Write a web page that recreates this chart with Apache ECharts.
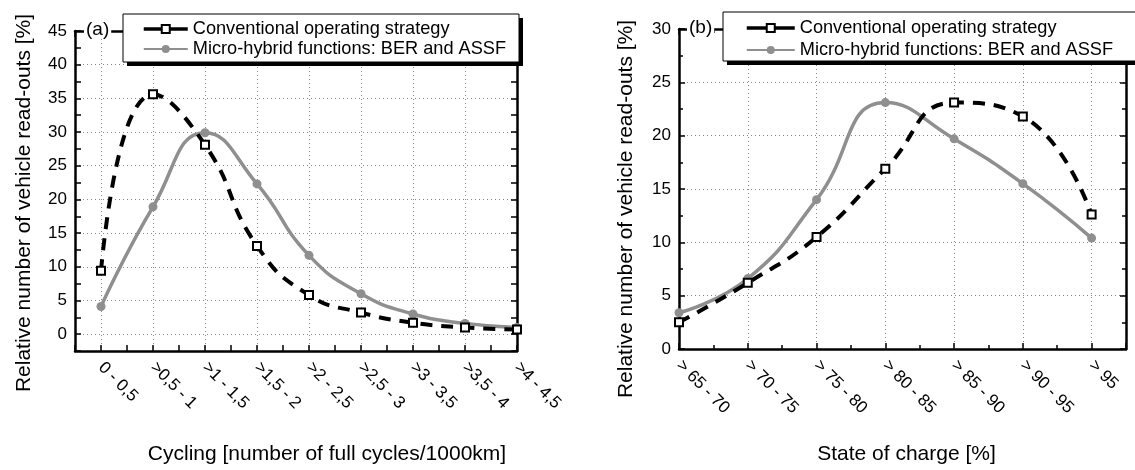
<!DOCTYPE html>
<html>
<head>
<meta charset="utf-8">
<script src="https://cdn.jsdelivr.net/npm/echarts@6/dist/echarts.min.js"></script>
<style>
    html, body { margin: 0; padding: 0; background: #fff; }
    #chart { width: 1135px; height: 470px; }
</style>
</head>
<body>
<div id="chart"></div>
<script>
// (a) cycling distribution
const cyclingLabels = ['0 - 0,5', '>0,5 - 1', '>1 - 1,5', '>1,5 - 2', '>2 - 2,5', '>2,5 - 3', '>3 - 3,5', '>3,5 - 4', '>4 - 4,5'];
const cyclingConventional = [9.4, 35.6, 28.1, 13.1, 5.8, 3.2, 1.7, 1.0, 0.7];
const cyclingMicroHybrid = [4.1, 18.9, 29.9, 22.3, 11.7, 6.0, 3.0, 1.6, 1.0];

// (b) state of charge distribution
const socLabels = ['> 65 - 70', '> 70 - 75', '> 75 - 80', '> 80 - 85', '> 85 - 90', '> 90 - 95', '> 95'];
const socConventional = [2.5, 6.2, 10.5, 16.9, 23.1, 21.8, 12.6];
const socMicroHybrid = [3.4, 6.6, 14.0, 23.1, 19.7, 15.5, 10.4];

const seriesNames = ['Conventional operating strategy', 'Micro-hybrid functions: BER and ASSF'];

const FONT = 'Liberation Sans';
const GREY = '#8f8f8f';
const DOTS = '#8a8a8a';

const chart = echarts.init(document.getElementById('chart'));

// Frame line shared by all axes
const frameLine = {show: true, onZero: false, lineStyle: {color: '#000', width: 2.5}};
const tick = {show: true, inside: true, length: 6, lineStyle: {color: '#000', width: 1.5}};
const minorTick = {show: true, splitNumber: 2, length: 4, lineStyle: {color: '#000', width: 1.5}};
// dotted grid, every second line hidden (for the 0.5 / 2.5 step axes)
const halfSplit = {show: true, lineStyle: {color: ['rgba(0,0,0,0)', DOTS], type: [1, 3], width: 1}};
const fullSplit = {show: true, lineStyle: {color: DOTS, type: [1, 3], width: 1}};

// Secondary axis only drawing the top / right frame with ticks
const frameAxis = (base, position) => Object.assign({}, base, {
    position: position,
    name: '',
    axisLabel: {show: false},
    splitLine: {show: false}
});

// Series for one panel
const panelSeries = (gridIndex, conventional, microHybrid) => [
    {
        name: seriesNames[1],
        type: 'line',
        xAxisIndex: gridIndex * 2,
        yAxisIndex: gridIndex * 2,
        data: microHybrid.map((v, i) => [i, v]),
        smooth: 0.5,
        symbol: 'circle',
        symbolSize: 9,
        itemStyle: {color: GREY},
        lineStyle: {color: GREY, width: 3.5},
        z: 3
    },
    {
        name: seriesNames[0],
        type: 'line',
        xAxisIndex: gridIndex * 2,
        yAxisIndex: gridIndex * 2,
        data: conventional.map((v, i) => [i, v]),
        smooth: 0.5,
        symbol: 'rect',
        symbolSize: 8,
        itemStyle: {color: '#fff', borderColor: '#000', borderWidth: 2},
        lineStyle: {color: '#000', width: 4, type: [12, 9]},
        z: 4
    }
];

// Legend for one panel (box is drawn as graphics behind it)
const panelLegend = (left, top, itemWidth, itemGap) => ({
    orient: 'vertical',
    left: left,
    top: top,
    z: 11,
    itemWidth: itemWidth,
    itemHeight: 10,
    itemGap: itemGap,
    padding: 0,
    textStyle: {fontFamily: FONT, fontSize: 18.2, color: '#000', lineHeight: 20},
    data: [
        {name: seriesNames[0], lineStyle: {type: 'solid', width: 3.5}},
        {name: seriesNames[1]}
    ]
});

// Legend frame (white box, border)
const legendBox = (x, y, w, h) => ({
    type: 'rect', z: 10, shape: {x: x, y: y, width: w, height: h},
    style: {fill: '#fff', stroke: '#000', lineWidth: 1}
});

// Black grid rectangle 4px down/right of the box: the hard drop shadow
const shadowGrid = (x, y, w, h) => ({
    show: true, left: x + 4, top: y + 4, width: w, height: h,
    backgroundColor: '#000', borderWidth: 0, z: 1
});

// Axes of panel (a)
const cyclingX = {
    type: 'value', gridIndex: 0, min: -0.5, max: 8, interval: 0.5,
    axisLine: frameLine, axisTick: tick, splitLine: halfSplit,
    axisLabel: {
        rotate: -45, margin: 14, fontFamily: FONT, fontSize: 17, color: '#000',
        formatter: (v) => Number.isInteger(v) && v >= 0 ? cyclingLabels[v] : ''
    },
    name: 'Cycling [number of full cycles/1000km]',
    nameLocation: 'middle', nameGap: 93,
    nameTextStyle: {fontFamily: FONT, fontSize: 21, color: '#000', padding: [0, 0, 0, 62]}
};
const cyclingY = {
    type: 'value', gridIndex: 0, min: -2.5, max: 45, interval: 2.5,
    axisLine: frameLine, axisTick: tick, splitLine: halfSplit,
    axisLabel: {
        margin: 8, fontFamily: FONT, fontSize: 17, color: '#000',
        formatter: (v) => v >= 0 && v % 5 === 0 ? String(v) : ''
    },
    name: 'Relative number of vehicle read-outs [%]',
    nameLocation: 'middle', nameGap: 40,
    nameTextStyle: {fontFamily: FONT, fontSize: 21, color: '#000', padding: [0, 24, 0, 0]}
};

// Axes of panel (b)
const socX = {
    type: 'value', gridIndex: 1, min: 0, max: 6.5, interval: 1,
    axisLine: frameLine, axisTick: tick, minorTick: minorTick, splitLine: fullSplit,
    axisLabel: {
        rotate: -45, margin: 14, fontFamily: FONT, fontSize: 17, color: '#000',
        formatter: (v) => Number.isInteger(v) ? socLabels[v] : ''
    },
    name: 'State of charge [%]',
    nameLocation: 'middle', nameGap: 95,
    nameTextStyle: {fontFamily: FONT, fontSize: 21, color: '#000', padding: [0, 0, 0, 8]}
};
const socY = {
    type: 'value', gridIndex: 1, min: 0, max: 30, interval: 5,
    axisLine: frameLine, axisTick: tick, minorTick: minorTick, splitLine: fullSplit,
    axisLabel: {margin: 8, fontFamily: FONT, fontSize: 17, color: '#000'},
    name: 'Relative number of vehicle read-outs [%]',
    nameLocation: 'middle', nameGap: 42,
    nameTextStyle: {fontFamily: FONT, fontSize: 21, color: '#000', padding: [0, 40, 0, 0]}
};

const boxA = [123, 14, 396, 48];
const boxB = [723, 12, 430, 49];

const option = {
    animation: false,
    backgroundColor: '#fff',
    grid: [
        {left: 75, right: 618, top: 31, bottom: 117},
        {left: 679, right: 9, top: 29, bottom: 114},
        shadowGrid(...boxA),
        shadowGrid(...boxB)
    ],
    xAxis: [
        Object.assign({position: 'bottom'}, cyclingX), frameAxis(cyclingX, 'top'),
        Object.assign({position: 'bottom'}, socX), frameAxis(socX, 'top')
    ],
    yAxis: [
        Object.assign({position: 'left'}, cyclingY), frameAxis(cyclingY, 'right'),
        Object.assign({position: 'left'}, socY), frameAxis(socY, 'right')
    ],
    legend: [
        panelLegend(142, 19, 44, 0),
        panelLegend(745, 18, 48, 2)
    ],
    graphic: [
        legendBox(...boxA),
        legendBox(...boxB),
        {type: 'text', left: 84, top: 20, z: 12,
            style: {text: '(a)', fontFamily: FONT, fontSize: 19, fill: '#000', backgroundColor: '#fff', padding: [0, 2]}},
        {type: 'text', left: 687, top: 18, z: 12,
            style: {text: '(b)', fontFamily: FONT, fontSize: 19, fill: '#000', backgroundColor: '#fff', padding: [0, 2]}}
    ],
    series: [
        ...panelSeries(0, cyclingConventional, cyclingMicroHybrid),
        ...panelSeries(1, socConventional, socMicroHybrid)
    ]
};

chart.setOption(option);
</script>
</body>
</html>
